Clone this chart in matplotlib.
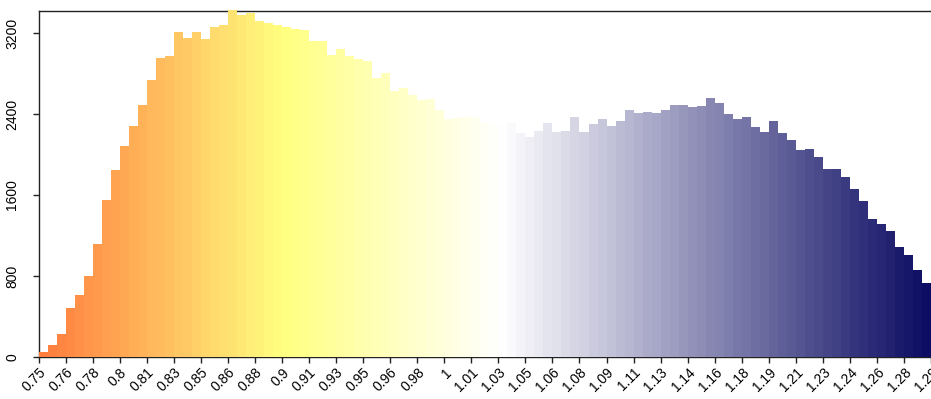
import matplotlib
matplotlib.use("Agg")
import matplotlib.pyplot as plt
import numpy as np
from matplotlib.colors import LinearSegmentedColormap

# ---- data ----
bin_start = 0.7473
bin_width = 0.0055167
counts = [46, 118, 226, 479, 617, 798, 1113, 1553, 1851, 2081,
          2278, 2488, 2731, 2954, 2971, 3214, 3155, 3214, 3138, 3260,
          3276, 3424, 3378, 3394, 3319, 3302, 3276, 3263, 3243, 3227,
          3122, 3122, 2987, 3046, 2968, 2941, 2925, 2757, 2807, 2623,
          2652, 2590, 2534, 2547, 2439, 2354, 2360, 2367, 2367, 2310,
          2295, 2281, 2314, 2209, 2176, 2235, 2314, 2222, 2235, 2373,
          2222, 2298, 2347, 2281, 2327, 2436, 2407, 2420, 2407, 2436,
          2492, 2492, 2466, 2479, 2555, 2512, 2403, 2347, 2373, 2268,
          2222, 2327, 2209, 2146, 2041, 2057, 1978, 1860, 1860, 1781,
          1663, 1542, 1360, 1318, 1240, 1089, 1010, 862, 726]
xtick_labels = ["0.75", "0.76", "0.78", "0.8", "0.81", "0.83", "0.85", "0.86",
                "0.88", "0.9", "0.91", "0.93", "0.95", "0.96", "0.98", "1",
                "1.01", "1.03", "1.05", "1.06", "1.08", "1.09", "1.11", "1.13",
                "1.14", "1.16", "1.18", "1.19", "1.21", "1.23", "1.24", "1.26",
                "1.28", "1.29"]
ytick_values = [0, 800, 1600, 2400, 3200]

# ---- colours ----
cmap = LinearSegmentedColormap.from_list(
    "ramp",
    [(0.0, (1.0, 0.49, 0.24)),
     (0.27, (1.0, 1.0, 0.50)),
     (0.52, (1.0, 1.0, 1.0)),
     (1.0, (0.05, 0.05, 0.39))])

n = len(counts)
edges = bin_start + np.arange(n + 1) * bin_width
colors = [cmap(i / (n - 1)) for i in range(n)]

plt.rcParams['font.family'] = ['Liberation Sans', 'DejaVu Sans']

fig = plt.figure(figsize=(9.31, 3.99), dpi=100)
W, H = 931, 399
left_px, right_px, top_px, bottom_px = 38.7, 931, 11, 357
ax = fig.add_axes([left_px / W, (H - bottom_px) / H,
                   (right_px - left_px) / W, (bottom_px - top_px) / H])

ax.bar(edges[:-1], counts, width=bin_width, align='edge', color=colors,
       linewidth=0, zorder=3, clip_on=False)

ax.set_xlim(edges[0], edges[0] + 99 * bin_width)
ax.set_ylim(0, 3417)

tick_pos = bin_start + np.arange(len(xtick_labels)) * 3 * bin_width
ax.set_xticks(tick_pos)
ax.set_xticklabels(xtick_labels, rotation=45, ha='right', va='top',
                   rotation_mode='anchor', fontsize=10)
ax.set_yticks(ytick_values)
ax.set_yticklabels([str(v) for v in ytick_values], rotation=90,
                   va='center', fontsize=10)

for s in ['left', 'bottom', 'top']:
    ax.spines[s].set_linewidth(1.0)
    ax.spines[s].set_color('#222222')
ax.spines['right'].set_visible(False)
ax.tick_params(axis='x', length=4, width=1.0, color='#222222', pad=2)
ax.tick_params(axis='y', length=4, width=1.0, color='#222222', pad=10)

fig.savefig("out.png", dpi=100)
